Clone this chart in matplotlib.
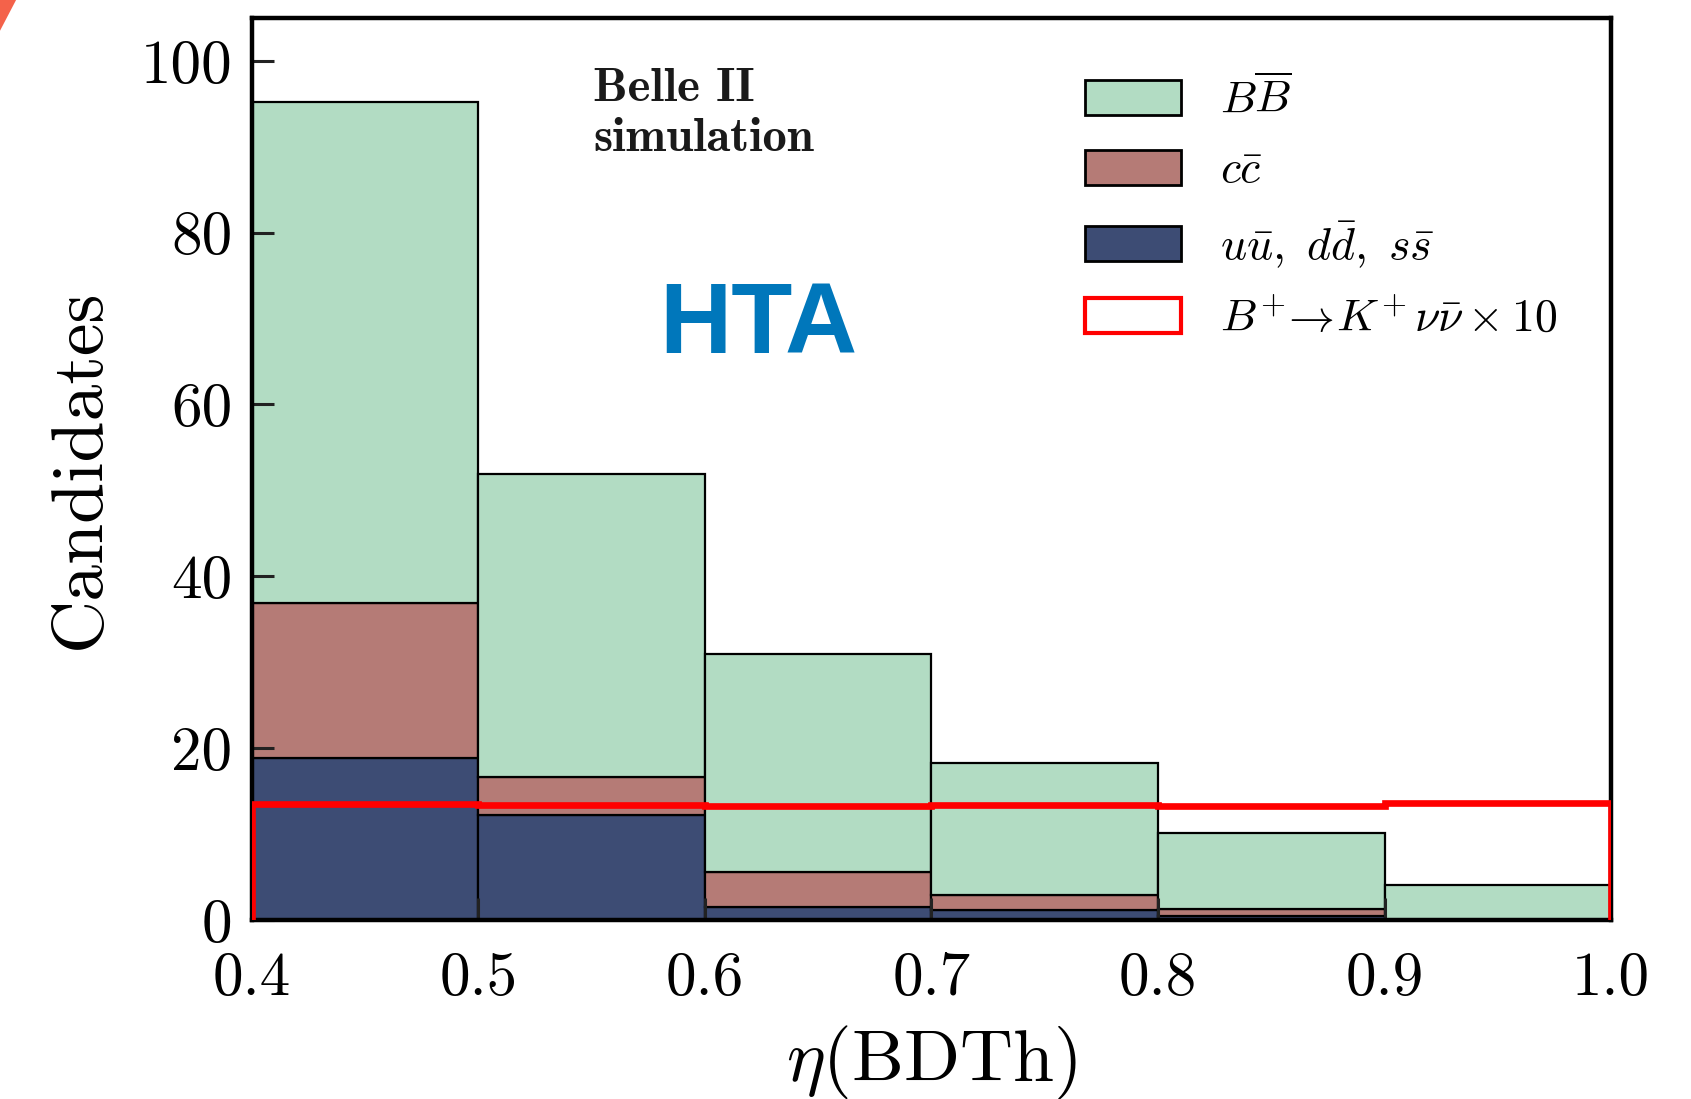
import matplotlib
matplotlib.use("Agg")
import matplotlib.pyplot as plt
from matplotlib.patches import Patch, Polygon
import numpy as np

plt.rcParams['font.family'] = 'serif'
plt.rcParams['font.serif'] = ['cmr10']
plt.rcParams['mathtext.fontset'] = 'cm'
plt.rcParams['axes.formatter.use_mathtext'] = True

# Binning in eta(BDTh)
bin_edges = [0.4, 0.5, 0.6, 0.7, 0.8, 0.9, 1.0]

# Stacked background contributions (candidates per bin)
uds = [18.8, 12.2, 1.5, 1.15, 0.5, 0.0]
ccbar = [18.1, 4.4, 4.1, 1.75, 0.75, 0.0]
bbbar = [58.3, 35.3, 25.4, 15.4, 8.85, 4.1]

# Signal B+ -> K+ nu nubar, scaled by 10
signal_x10 = [13.5, 13.4, 13.3, 13.4, 13.2, 13.6]

labels = [r'$B\overline{B}$', r'$c\bar{c}$',
          r'$u\bar{u},\ d\bar{d},\ s\bar{s}$',
          r'$B^{\!+}\!\!\rightarrow\! K^{\!+}\nu\bar{\nu}\times 10$']

xticks = [0.4, 0.5, 0.6, 0.7, 0.8, 0.9, 1.0]
xticklabels = ['0.4', '0.5', '0.6', '0.7', '0.8', '0.9', '1.0']
yticks = [0, 20, 40, 60, 80, 100]
yticklabels = ['0', '20', '40', '60', '80', '100']

c_bb = '#b2dcc3'
c_cc = '#b57b76'
c_uds = '#3d4c74'

fig = plt.figure(figsize=(16.91, 10.99), dpi=100)
ax = fig.add_axes([0.149, 0.163, 0.8037, 0.8207])

edges = np.array(bin_edges)
left = edges[:-1]
width = np.diff(edges)
uds_a = np.array(uds)
cc_a = np.array(ccbar)
bb_a = np.array(bbbar)

ax.bar(left, uds_a, width=width, align='edge', color=c_uds,
       edgecolor='black', linewidth=1.6)
ax.bar(left, cc_a, width=width, bottom=uds_a, align='edge', color=c_cc,
       edgecolor='black', linewidth=1.6)
ax.bar(left, bb_a, width=width, bottom=uds_a + cc_a, align='edge', color=c_bb,
       edgecolor='black', linewidth=1.6)
ax.stairs(signal_x10, edges, baseline=0, color='red', linewidth=4.8, zorder=3)

ax.set_xlim(0.4, 1.0)
ax.set_ylim(0, 105)
ax.set_xticks(xticks)
ax.set_xticklabels(xticklabels)
ax.set_yticks(yticks)
ax.set_yticklabels(yticklabels)
ax.tick_params(axis='both', direction='in', length=16, width=2.2,
               labelsize=44, color='#222222')
ax.tick_params(axis='x', pad=23)
ax.tick_params(axis='y', pad=14)
for sp in ax.spines.values():
    sp.set_linewidth(3.2)

ax.set_ylabel('Candidates', fontsize=53, labelpad=20)
ax.set_xlabel(r'$\eta$(BDTh)', fontsize=53, labelpad=12)

ax.text(0.251, 0.945, 'Belle II\nsimulation', transform=ax.transAxes,
        family='cmb10', fontsize=35, va='top', ha='left', linespacing=1.25,
        color='#1a1a1a')
ax.text(0.300, 0.628, 'HTA', transform=ax.transAxes, family='Liberation Sans',
        fontweight='bold', fontsize=72, color='#0077bb', ha='left',
        va='baseline')

handles = [Patch(facecolor=c_bb, edgecolor='black', linewidth=2),
           Patch(facecolor=c_cc, edgecolor='black', linewidth=2),
           Patch(facecolor=c_uds, edgecolor='black', linewidth=2),
           Patch(facecolor='white', edgecolor='red', linewidth=3)]
ax.legend(handles, labels, loc='upper left', bbox_to_anchor=(0.613, 0.934),
          frameon=False, fontsize=33, handlelength=2.1, handleheight=0.8,
          handletextpad=0.85, labelspacing=0.6, borderpad=0,
          borderaxespad=0)

# small orange corner mark
fig.patches.append(Polygon([[0, 1], [0.0095, 1], [0, 0.972]], closed=True,
                           transform=fig.transFigure, facecolor='#f4624a',
                           edgecolor='none'))

fig.savefig('out.png', dpi=100)
